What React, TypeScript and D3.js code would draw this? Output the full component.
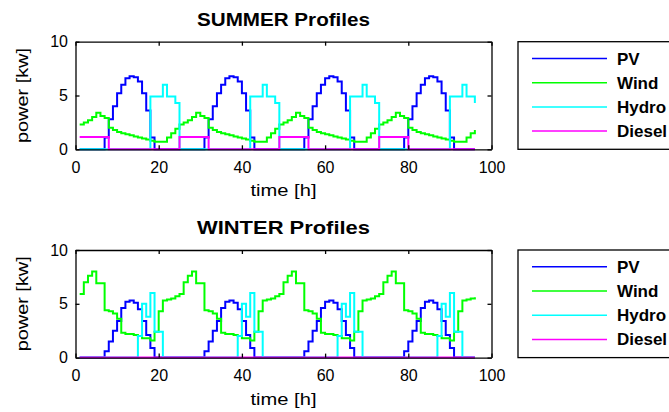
import React, { useEffect, useRef } from 'react'
import * as d3 from 'd3'

// hour index of each step (stairs plot, 4 days)
const hours = d3.range(1, 97)

const seriesNames = ['PV', 'Wind', 'Hydro', 'Diesel']
const seriesColors = ['#0000ff', '#00ff00', '#00ffff', '#ff00ff']
const xTicks = [0, 20, 40, 60, 80, 100]
const yTicks = [0, 5, 10]

const summerPV = [
  0, 0, 0, 0, 0, 0, 1.1, 2.8, 4.0, 5.2, 6.0, 6.6, 6.8, 6.7, 6.3, 5.2, 3.6, 1.1, 0, 0, 0, 0, 0, 0,
  0, 0, 0, 0, 0, 0, 1.1, 2.8, 4.0, 5.2, 6.0, 6.6, 6.8, 6.7, 6.3, 5.2, 3.6, 1.1, 0, 0, 0, 0, 0, 0,
  0, 0, 0, 0, 0, 0, 1.1, 2.8, 4.0, 5.2, 6.0, 6.6, 6.8, 6.7, 6.3, 5.2, 3.6, 1.1, 0, 0, 0, 0, 0, 0,
  0, 0, 0, 0, 0, 0, 1.1, 2.8, 4.0, 5.2, 6.0, 6.6, 6.8, 6.7, 6.3, 5.2, 3.6, 1.1, 0, 0, 0, 0, 0, 0,
]
const summerWind = [
  2.3, 2.5, 2.7, 3.0, 3.4, 3.1, 2.9, 2.0, 1.8, 1.6, 1.5, 1.4, 1.3, 1.2, 1.1, 1.0, 0.9, 0.8, 0.7, 0.7, 0.7, 1.1, 1.5, 1.9,
  2.3, 2.5, 2.7, 3.0, 3.4, 3.1, 2.9, 2.0, 1.8, 1.6, 1.5, 1.4, 1.3, 1.2, 1.1, 1.0, 0.9, 0.8, 0.7, 0.7, 0.7, 1.1, 1.5, 1.9,
  2.3, 2.5, 2.7, 3.0, 3.4, 3.1, 2.9, 2.0, 1.8, 1.6, 1.5, 1.4, 1.3, 1.2, 1.1, 1.0, 0.9, 0.8, 0.7, 0.7, 0.7, 1.1, 1.5, 1.9,
  2.3, 2.5, 2.7, 3.0, 3.4, 3.1, 2.9, 2.0, 1.8, 1.6, 1.5, 1.4, 1.3, 1.2, 1.1, 1.0, 0.9, 0.8, 0.7, 0.7, 0.7, 1.1, 1.5, 1.8,
]
const summerHydro = [
  0, 0, 0, 0, 0, 0, 0, 0, 0, 0, 0, 0, 0, 0, 0, 0, 0, 4.9, 4.9, 4.9, 6.0, 4.9, 4.9, 4.3,
  0, 0, 0, 0, 0, 0, 0, 0, 0, 0, 0, 0, 0, 0, 0, 0, 0, 4.9, 4.9, 4.9, 6.0, 4.9, 4.9, 4.3,
  0, 0, 0, 0, 0, 0, 0, 0, 0, 0, 0, 0, 0, 0, 0, 0, 0, 4.9, 4.9, 4.9, 6.0, 4.9, 4.9, 4.3,
  0, 0, 0, 0, 0, 0, 0, 0, 0, 0, 0, 0, 0, 0, 0, 0, 0, 4.9, 4.9, 4.9, 6.0, 4.9, 4.9, 4.3,
]
const summerDiesel = [
  1.15, 1.15, 1.15, 1.15, 1.15, 1.15, 1.15, 0, 0, 0, 0, 0, 0, 0, 0, 0, 0, 0, 0, 0, 0, 0, 0, 0,
  1.15, 1.15, 1.15, 1.15, 1.15, 1.15, 1.15, 0, 0, 0, 0, 0, 0, 0, 0, 0, 0, 0, 0, 0, 0, 0, 0, 0,
  1.15, 1.15, 1.15, 1.15, 1.15, 1.15, 1.15, 0, 0, 0, 0, 0, 0, 0, 0, 0, 0, 0, 0, 0, 0, 0, 0, 0,
  1.15, 1.15, 1.15, 1.15, 1.15, 1.15, 1.15, 0, 0, 0, 0, 0, 0, 0, 0, 0, 0, 0, 0, 0, 0, 0, 0, 0,
]

const winterPV = [
  0, 0, 0, 0, 0, 0, 0.6, 1.5, 2.5, 3.4, 4.6, 5.2, 5.3, 5.1, 4.5, 3.4, 2.1, 0.9, 0, 0, 0, 0, 0, 0,
  0, 0, 0, 0, 0, 0, 0.6, 1.5, 2.5, 3.4, 4.6, 5.2, 5.3, 5.1, 4.5, 3.4, 2.1, 0.9, 0, 0, 0, 0, 0, 0,
  0, 0, 0, 0, 0, 0, 0.6, 1.5, 2.5, 3.4, 4.6, 5.2, 5.3, 5.1, 4.5, 3.4, 2.1, 0.9, 0, 0, 0, 0, 0, 0,
  0, 0, 0, 0, 0, 0, 0.6, 1.5, 2.5, 3.4, 4.6, 5.2, 5.3, 5.1, 4.5, 3.4, 2.1, 0.9, 0, 0, 0, 0, 0, 0,
]
const winterWind = [
  5.9, 7.0, 7.6, 8.0, 6.9, 6.9, 4.4, 4.3, 4.1, 3.6, 2.3, 2.2, 2.2, 2.1, 2.0, 1.8, 1.8, 1.6, 2.4, 4.3, 5.3, 5.4, 5.5, 5.7,
  5.9, 7.0, 7.6, 8.0, 6.9, 6.9, 4.4, 4.3, 4.1, 3.6, 2.3, 2.2, 2.2, 2.1, 2.0, 1.8, 1.8, 1.6, 2.4, 4.3, 5.3, 5.4, 5.5, 5.7,
  5.9, 7.0, 7.6, 8.0, 6.9, 6.9, 4.4, 4.3, 4.1, 3.6, 2.3, 2.2, 2.2, 2.1, 2.0, 1.8, 1.8, 1.6, 2.4, 4.3, 5.3, 5.4, 5.5, 5.7,
  5.9, 7.0, 7.6, 8.0, 6.9, 6.9, 4.4, 4.3, 4.1, 3.6, 2.3, 2.2, 2.2, 2.1, 2.0, 1.8, 1.8, 1.6, 2.4, 4.3, 5.3, 5.4, 5.5, 5.6,
]
const winterHydro = [
  0, 0, 0, 0, 0, 0, 0, 0, 0, 0, 0, 0, 0, 0, 2.0, 5.0, 3.8, 6.0, 2.4, 2.4, 0, 0, 0, 0,
  0, 0, 0, 0, 0, 0, 0, 0, 0, 0, 0, 0, 0, 0, 2.0, 5.0, 3.8, 6.0, 2.4, 2.4, 0, 0, 0, 0,
  0, 0, 0, 0, 0, 0, 0, 0, 0, 0, 0, 0, 0, 0, 2.0, 5.0, 3.8, 6.0, 2.4, 2.4, 0, 0, 0, 0,
  0, 0, 0, 0, 0, 0, 0, 0, 0, 0, 0, 0, 0, 0, 2.0, 5.0, 3.8, 6.0, 2.4, 2.4, 0, 0, 0, 0,
]
const winterDiesel = [
  0, 0, 0, 0, 0, 0, 0, 0, 0, 0, 0, 0, 0, 0, 0, 0, 0, 0, 0, 0, 0, 0, 0, 0,
  0, 0, 0, 0, 0, 0, 0, 0, 0, 0, 0, 0, 0, 0, 0, 0, 0, 0, 0, 0, 0, 0, 0, 0,
  0, 0, 0, 0, 0, 0, 0, 0, 0, 0, 0, 0, 0, 0, 0, 0, 0, 0, 0, 0, 0, 0, 0, 0,
  0, 0, 0, 0, 0, 0, 0, 0, 0, 0, 0, 0, 0, 0, 0, 0, 0, 0, 0, 0, 0, 0, 0, 0,
]

const FONT = '"Liberation Sans", Arial, sans-serif'

function drawPanel(svg: any, title: string, series: number[][], top: number) {
  const left = 75.5
  const right = 491.5
  const bottom = top + 107.6

  const x = d3.scaleLinear().domain([0, 100]).range([left, right])
  const y = d3.scaleLinear().domain([0, 10]).range([bottom, top])

  const g = svg.append('g')

  // series, stairs
  series.forEach((vals, i) => {
    const line = d3.line<number>()
      .x((d, j) => x(hours[j]))
      .y(d => y(d))
      .curve(d3.curveStepAfter)
    g.append('path')
      .attr('d', line(vals))
      .attr('fill', 'none')
      .attr('stroke', seriesColors[i])
      .attr('stroke-width', 2)
  })

  // axes (ticks pointing inwards)
  const styleAxis = (a: any) => {
    a.selectAll('path').attr('stroke-width', 1.3)
    a.selectAll('line').attr('stroke-width', 1.3)
    a.attr('font-family', FONT).attr('font-size', 16)
    a.selectAll('text').attr('fill', '#000')
  }
  g.append('g').attr('transform', `translate(0,${bottom})`)
    .call(d3.axisBottom(x).tickValues(xTicks).tickSizeInner(-4).tickSizeOuter(0).tickPadding(12))
    .call(styleAxis)
  g.append('g').attr('transform', `translate(0,${top})`)
    .call(d3.axisTop(x).tickValues(xTicks).tickSizeInner(-4).tickSizeOuter(0).tickFormat(() => ''))
    .call(styleAxis)
  g.append('g').attr('transform', `translate(${left},0)`)
    .call(d3.axisLeft(y).tickValues(yTicks).tickSizeInner(-4).tickSizeOuter(0).tickPadding(7.5))
    .call(styleAxis)
  g.append('g').attr('transform', `translate(${right},0)`)
    .call(d3.axisRight(y).tickValues(yTicks).tickSizeInner(-4).tickSizeOuter(0).tickFormat(() => ''))
    .call(styleAxis)

  // title & labels
  g.append('text')
    .attr('x', (left + right) / 2).attr('y', top - 16)
    .attr('text-anchor', 'middle')
    .attr('font-family', FONT).attr('font-size', 19).attr('font-weight', 'bold')
    .attr('textLength', 173).attr('lengthAdjust', 'spacingAndGlyphs')
    .text(title)
  g.append('text')
    .attr('x', (left + right) / 2).attr('y', bottom + 47)
    .attr('text-anchor', 'middle')
    .attr('font-family', FONT).attr('font-size', 17)
    .attr('textLength', 66).attr('lengthAdjust', 'spacingAndGlyphs')
    .text('time [h]')
  g.append('text')
    .attr('transform', `translate(28,${(top + bottom) / 2}) rotate(-90)`)
    .attr('text-anchor', 'middle')
    .attr('font-family', FONT).attr('font-size', 17)
    .attr('textLength', 95).attr('lengthAdjust', 'spacingAndGlyphs')
    .text('power [kw]')

  // legend
  const lg = g.append('g')
  lg.append('rect')
    .attr('x', 518).attr('y', top).attr('width', 220).attr('height', bottom - top)
    .attr('fill', '#fff').attr('stroke', '#000').attr('stroke-width', 1.3)
  seriesNames.forEach((name, i) => {
    const ly = top + 16.8 + i * 24.2
    lg.append('line')
      .attr('x1', 532).attr('x2', 607).attr('y1', ly).attr('y2', ly)
      .attr('stroke', seriesColors[i]).attr('stroke-width', 1.5)
    lg.append('text')
      .attr('x', 617).attr('y', ly + 6)
      .attr('font-family', FONT).attr('font-size', 17).attr('font-weight', 'bold')
      .text(name)
  })
}

export default function App() {
  const ref = useRef<SVGSVGElement>(null)

  useEffect(() => {
    const svg = d3.select(ref.current)
    svg.selectAll('*').remove()
    drawPanel(svg, 'SUMMER Profiles', [summerPV, summerWind, summerHydro, summerDiesel], 41.7)
    drawPanel(svg, 'WINTER Profiles', [winterPV, winterWind, winterHydro, winterDiesel], 250)
  }, [])

  return (
    <svg
      ref={ref}
      width={669}
      height={412}
      style={{ position: 'absolute', left: 0, top: 0, background: '#fff' }}
    />
  )
}
